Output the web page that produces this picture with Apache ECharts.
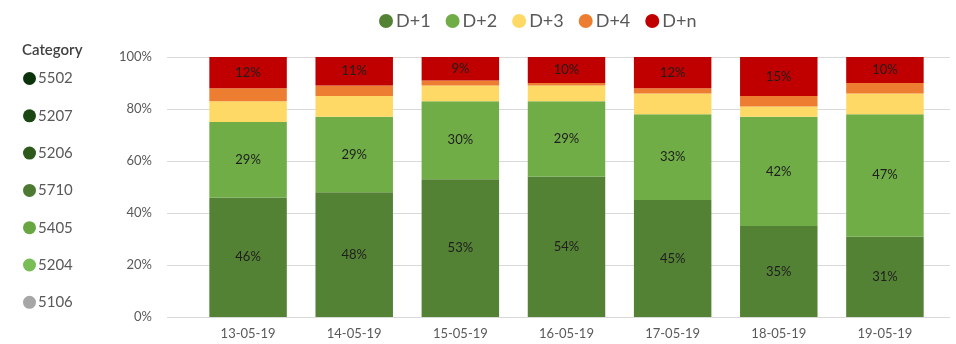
<!DOCTYPE html>
<html>
<head>
<meta charset="utf-8">
<script src="https://cdn.jsdelivr.net/npm/echarts@6/dist/echarts.min.js"></script>
<style>
  html, body { margin: 0; padding: 0; background: #fff; }
  #chart { width: 956px; height: 344px; }
</style>
</head>
<body>
<div id="chart"></div>
<script>
// Daily share of deliveries by delay bucket (percent of each day)
const days = ['13-05-19', '14-05-19', '15-05-19', '16-05-19', '17-05-19', '18-05-19', '19-05-19'];
const d1 = [46, 48, 53, 54, 45, 35, 31];
const d2 = [29, 29, 30, 29, 33, 42, 47];
const d3 = [8, 8, 6, 6, 8, 4, 8];
const d4 = [5, 4, 2, 1, 2, 4, 4];
const dn = [12, 11, 9, 10, 12, 15, 10];
const yTicks = [0, 20, 40, 60, 80, 100];

// Category list shown on the left
const categories = ['5502', '5207', '5206', '5710', '5405', '5204', '5106'];
const categoryColors = ['#0b330b', '#1c4712', '#2d5a1b', '#4c7a33', '#67a640', '#78bd55', '#a6a6a6'];

const FONT = 'Lato, "Open Sans", sans-serif';
const bucketColors = { 'D+1': '#548235', 'D+2': '#70AD47', 'D+3': '#FFD966', 'D+4': '#ED7D31', 'D+n': '#C00000' };

const labelStyle = {
  show: true,
  position: 'inside',
  formatter: p => p.value + '%',
  color: '#1e1e1e',
  fontFamily: FONT,
  fontSize: 13
};

function bucket(name, data, withLabel) {
  return {
    name, type: 'bar', stack: 'share', data,
    xAxisIndex: 1, yAxisIndex: 1,
    barWidth: '73%',
    itemStyle: { color: bucketColors[name] },
    label: withLabel ? labelStyle : { show: false },
    emphasis: { disabled: true }
  };
}

const categorySeries = categories.map((c, i) => ({
  name: c, type: 'scatter', data: [],
  xAxisIndex: 0, yAxisIndex: 0,
  itemStyle: { color: categoryColors[i], opacity: 1 }
}));

const chart = echarts.init(document.getElementById('chart'), null, { renderer: 'canvas' });
chart.setOption({
  animation: false,
  backgroundColor: '#fff',
  title: {
    text: 'Category', left: 17, top: 38,
    textStyle: { fontFamily: FONT, fontSize: 15, fontWeight: 600, color: '#404040' }
  },
  legend: [
    {
      data: ['D+1', 'D+2', 'D+3', 'D+4', 'D+n'],
      top: 7, left: 374,
      icon: 'circle', itemWidth: 14, itemHeight: 14, itemGap: 15,
      selectedMode: false,
      textStyle: { fontFamily: FONT, fontSize: 18, color: '#595959', padding: [0, 0, 0, -2] }
    },
    {
      data: categories,
      orient: 'vertical', left: 18, top: 66,
      icon: 'circle', itemWidth: 13, itemHeight: 13, itemGap: 22.3,
      selectedMode: false,
      textStyle: { fontFamily: FONT, fontSize: 15, color: '#595959', padding: [0, 0, 0, -3] }
    }
  ],
  grid: [
    { left: 167, right: 6, top: 57, bottom: 27 },
    { left: 195, right: 18, top: 57, bottom: 27 }
  ],
  xAxis: [
    { type: 'category', gridIndex: 0, data: days, show: false },
    {
      type: 'category', gridIndex: 1, data: days,
      axisLine: { show: false }, axisTick: { show: false },
      axisLabel: { fontFamily: FONT, fontSize: 13, color: '#595959', margin: 10 }
    }
  ],
  yAxis: [
    {
      type: 'value', gridIndex: 0, min: yTicks[0], max: yTicks[yTicks.length - 1], interval: 20,
      axisLine: { show: false }, axisTick: { show: false },
      axisLabel: { formatter: '{value}%', fontFamily: FONT, fontSize: 13, color: '#595959', margin: 15 },
      splitLine: { lineStyle: { color: '#d9d9d9', width: 1 } }
    },
    {
      type: 'value', gridIndex: 1, min: 0, max: 100, interval: 20, show: false,
      splitLine: { show: false }
    }
  ],
  series: [
    bucket('D+1', d1, true),
    bucket('D+2', d2, true),
    bucket('D+3', d3, false),
    bucket('D+4', d4, false),
    bucket('D+n', dn, true),
    ...categorySeries
  ]
});
</script>
</body>
</html>
